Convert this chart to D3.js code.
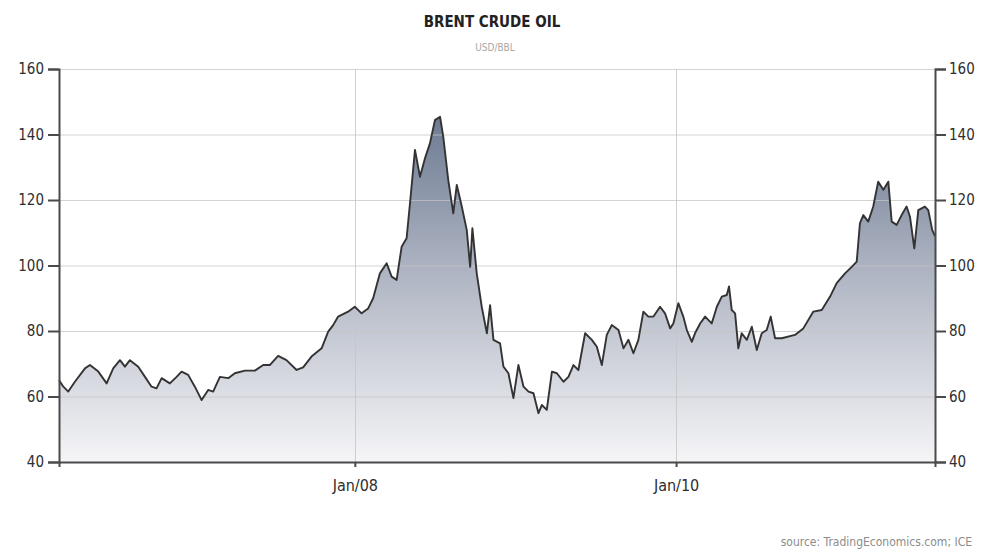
<!DOCTYPE html>
<html>
<head>
<meta charset="utf-8">
<script src="https://cdn.jsdelivr.net/npm/d3@7"></script>
<style>
  body { margin: 0; background: #fff; }
  svg { display: block; }
</style>
</head>
<body>
<div id="chart"></div>
<script>
// brent crude: decimal year + usd/bbl
const years = [
  2006.156, 2006.183, 2006.214, 2006.255, 2006.318, 2006.349, 2006.401, 2006.453, 2006.494, 2006.536,
  2006.567, 2006.598, 2006.650, 2006.692, 2006.733, 2006.764, 2006.796, 2006.847, 2006.889, 2006.920,
  2006.961, 2007.003, 2007.045, 2007.086, 2007.117, 2007.159, 2007.211, 2007.252, 2007.315, 2007.377,
  2007.429, 2007.470, 2007.522, 2007.574, 2007.637, 2007.678, 2007.730, 2007.793, 2007.834, 2007.865,
  2007.896, 2007.958, 2008.000, 2008.042, 2008.083, 2008.114, 2008.156, 2008.198, 2008.229, 2008.260,
  2008.291, 2008.322, 2008.343, 2008.374, 2008.405, 2008.436, 2008.467, 2008.498, 2008.530, 2008.550,
  2008.581, 2008.612, 2008.634, 2008.665, 2008.696, 2008.717, 2008.731, 2008.758, 2008.789, 2008.821,
  2008.841, 2008.862, 2008.903, 2008.924, 2008.955, 2008.986, 2009.017, 2009.049, 2009.080, 2009.111,
  2009.142, 2009.163, 2009.194, 2009.226, 2009.257, 2009.298, 2009.329, 2009.360, 2009.391, 2009.433,
  2009.475, 2009.506, 2009.537, 2009.568, 2009.599, 2009.641, 2009.672, 2009.703, 2009.734, 2009.765,
  2009.796, 2009.827, 2009.859, 2009.900, 2009.931, 2009.963, 2009.983, 2010.014, 2010.045, 2010.067,
  2010.098, 2010.118, 2010.150, 2010.181, 2010.222, 2010.254, 2010.285, 2010.316, 2010.330, 2010.347,
  2010.368, 2010.388, 2010.409, 2010.441, 2010.472, 2010.503, 2010.534, 2010.565, 2010.590, 2010.617,
  2010.659, 2010.741, 2010.793, 2010.855, 2010.908, 2010.960, 2011.001, 2011.053, 2011.095, 2011.126,
  2011.146, 2011.167, 2011.198, 2011.229, 2011.260, 2011.292, 2011.323, 2011.344, 2011.375, 2011.406,
  2011.437, 2011.458, 2011.485, 2011.510, 2011.551, 2011.572, 2011.597, 2011.614
];
const prices = [
  65.0, 63.0, 61.5, 64.5, 68.6, 69.6, 67.6, 64.0, 68.6, 71.1,
  69.1, 71.1, 69.1, 66.0, 63.0, 62.5, 65.6, 64.0, 66.0, 67.6,
  66.6, 63.0, 58.9, 62.0, 61.5, 66.0, 65.6, 67.1, 67.9, 67.9,
  69.6, 69.6, 72.4, 71.1, 68.1, 68.9, 72.2, 74.7, 79.8, 81.8,
  84.4, 85.9, 87.4, 85.4, 86.9, 90.0, 97.6, 100.7, 96.6, 95.6,
  105.7, 108.3, 119.0, 135.3, 127.1, 132.7, 137.3, 144.4, 145.4, 139.3,
  126.1, 115.9, 124.6, 118.0, 110.8, 99.6, 111.4, 97.6, 87.4, 79.3,
  87.9, 77.3, 76.2, 69.1, 67.1, 59.5, 69.6, 63.0, 61.5, 61.0,
  54.9, 57.4, 55.9, 67.6, 67.1, 64.5, 66.0, 69.6, 68.1, 79.3,
  77.3, 75.2, 69.6, 78.8, 81.8, 80.3, 74.7, 77.3, 73.2, 77.3,
  85.9, 84.4, 84.4, 87.4, 85.4, 80.8, 82.3, 88.5, 84.4, 80.3,
  76.7, 79.3, 82.3, 84.4, 82.3, 87.4, 90.5, 91.0, 93.6, 86.4,
  85.4, 74.7, 79.3, 77.3, 81.3, 74.2, 79.3, 80.3, 84.4, 77.8,
  77.8, 78.8, 80.8, 85.9, 86.4, 90.5, 94.6, 97.6, 99.6, 101.2,
  112.9, 115.4, 113.4, 118.0, 125.6, 123.1, 125.6, 113.4, 112.4, 115.4,
  118.0, 114.9, 105.2, 116.9, 118.0, 116.9, 110.8, 109.0
];
const yTicks = [40, 60, 80, 100, 120, 140, 160];
const xTicks = ["2008-01-01", "2010-01-01"];
const title = "BRENT CRUDE OIL";
const subtitle = "USD/BBL";
const source = "source: TradingEconomics.com; ICE";

const width = 985, height = 550,
      margin = { top: 69, bottom: 88, left: 59, right: 50 };

function yearToDate(t) {
  const y = Math.floor(t);
  const a = new Date(y, 0, 1).getTime(), b = new Date(y + 1, 0, 1).getTime();
  return new Date(a + (t - y) * (b - a));
}

const data = years.map((t, i) => ({ date: yearToDate(t), value: prices[i] }));

const svg = d3.select("#chart").append("svg")
  .attr("width", width)
  .attr("height", height)
  .style("font-family", "'DejaVu Sans Condensed', 'DejaVu Sans', sans-serif");

const x = d3.scaleTime()
  .domain(d3.extent(data, d => d.date))
  .range([margin.left, width - margin.right]);

const y = d3.scaleLinear()
  .domain([40, 160])
  .range([height - margin.bottom, margin.top]);

// fill gradient, dark at the top, fading to near white
const grad = svg.append("defs").append("linearGradient")
  .attr("id", "fillGrad")
  .attr("gradientUnits", "userSpaceOnUse")
  .attr("x1", 0).attr("x2", 0)
  .attr("y1", y(146)).attr("y2", y(40));
grad.append("stop").attr("offset", "0%").attr("stop-color", "#6c7a91");
grad.append("stop").attr("offset", "45%").attr("stop-color", "#aeb4c2");
grad.append("stop").attr("offset", "100%").attr("stop-color", "#f5f5f7");

const area = d3.area()
  .x(d => x(d.date))
  .y0(y(40))
  .y1(d => y(d.value));

const line = d3.line()
  .x(d => x(d.date))
  .y(d => y(d.value));

svg.append("path")
  .datum(data)
  .attr("d", area)
  .attr("fill", "url(#fillGrad)");

// gridlines on top of the fill
svg.append("g")
  .selectAll("line")
  .data(yTicks.slice(1))
  .join("line")
  .attr("x1", margin.left).attr("x2", width - margin.right)
  .attr("y1", d => y(d) + 0.5).attr("y2", d => y(d) + 0.5)
  .attr("stroke", "#c4c4c4")
  .attr("stroke-opacity", 0.75);

svg.append("g")
  .selectAll("line")
  .data(xTicks)
  .join("line")
  .attr("x1", d => Math.round(x(new Date(d + "T00:00"))) + 0.5)
  .attr("x2", d => Math.round(x(new Date(d + "T00:00"))) + 0.5)
  .attr("y1", margin.top).attr("y2", y(40))
  .attr("stroke", "#c4c4c4")
  .attr("stroke-opacity", 0.8);

svg.append("path")
  .datum(data)
  .attr("d", line)
  .attr("fill", "none")
  .attr("stroke", "#333")
  .attr("stroke-width", 1.9)
  .attr("stroke-linejoin", "round");

// axes
const leftAxis = svg.append("g")
  .attr("transform", `translate(${margin.left},0)`)
  .call(d3.axisLeft(y).tickValues(yTicks).tickSize(11).tickPadding(4));

const rightAxis = svg.append("g")
  .attr("transform", `translate(${width - margin.right},0)`)
  .call(d3.axisRight(y).tickValues(yTicks).tickSize(11).tickPadding(3));

const bottomAxis = svg.append("g")
  .attr("transform", `translate(0,${y(40)})`)
  .call(d3.axisBottom(x)
    .tickValues(xTicks.map(d => new Date(d + "T00:00")))
    .tickFormat(d3.timeFormat("%b/%y"))
    .tickSize(5).tickPadding(13));

[leftAxis, rightAxis, bottomAxis].forEach(g => {
  g.select(".domain").attr("stroke", "#4a4a4a").attr("stroke-width", 2);
  g.selectAll(".tick line").attr("stroke", "#4a4a4a").attr("stroke-width", 2);
  g.selectAll(".tick text")
    .attr("fill", "#2e2e2e")
    .style("font-size", "15px")
    .style("font-family", "'DejaVu Sans Condensed', 'DejaVu Sans', sans-serif");
});
bottomAxis.selectAll(".tick text").style("font-size", "16px");

// titles
svg.append("text")
  .attr("x", 492).attr("y", 27)
  .attr("text-anchor", "middle")
  .attr("fill", "#222")
  .style("font-size", "15px")
  .style("font-weight", "bold")
  .text(title);

svg.append("text")
  .attr("x", 495).attr("y", 51)
  .attr("text-anchor", "middle")
  .attr("fill", "#a8a8a8")
  .style("font-size", "10px")
  .text(subtitle);

svg.append("text")
  .attr("x", 972).attr("y", 546)
  .attr("text-anchor", "end")
  .attr("fill", "#8c8c8c")
  .style("font-size", "12px")
  .text(source);
</script>
</body>
</html>
